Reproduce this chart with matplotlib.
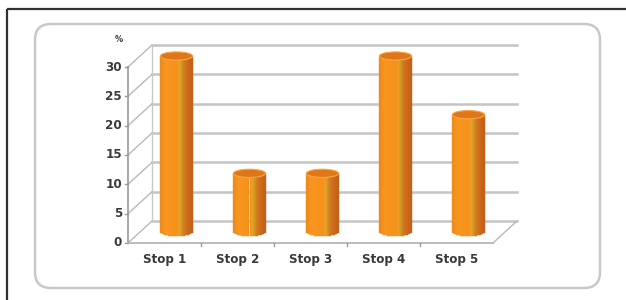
import matplotlib.pyplot as plt
from matplotlib.patches import FancyBboxPatch, Rectangle, Ellipse
from matplotlib.transforms import ScaledTranslation
from matplotlib.colors import LinearSegmentedColormap
import numpy as np

# data
categories = ["Stop 1", "Stop 2", "Stop 3", "Stop 4", "Stop 5"]
values = [30, 10, 10, 30, 20]
y_ticks = [0, 5, 10, 15, 20, 25, 30]
y_unit = "%"

fig = plt.figure(figsize=(6.26, 3), dpi=100)

# background layer in pixel coords
bg = fig.add_axes([0, 0, 1, 1])
bg.set_xlim(0, 626)
bg.set_ylim(300, 0)
bg.axis("off")
bg.plot([7, 626], [9, 9], color="#303030", lw=1.6, solid_capstyle="butt")
bg.plot([7, 7], [9, 300], color="#303030", lw=1.6, solid_capstyle="butt")
bg.add_patch(FancyBboxPatch((35, 24), 565, 264,
                            boxstyle="round,pad=0,rounding_size=16",
                            facecolor="white", edgecolor="#c8c8c8", lw=1.8))

# front plane of the chart
ax = fig.add_axes([128 / 626, 57 / 300, 365 / 626, 176 / 300])
ax.set_xlim(-0.5, len(categories) - 0.5)
ax.set_ylim(0, 30)
ax.axis("off")
ax.patch.set_alpha(0)

font = dict(fontweight="bold", color="#3a3a3a", family="DejaVu Sans",
            fontstretch="condensed")


def shifted(dx, dy):
    return ax.transData + ScaledTranslation(dx, dy, fig.dpi_scale_trans)


back = shifted(0.24, 0.22)
mid = shifted(0.12, 0.11)
x_left, x_right = -0.5, len(categories) - 0.5

grid_c = "#c4c4c4"
# back wall grid
for v in y_ticks:
    ax.plot([x_left, x_right], [v, v], color=grid_c, lw=1.8, transform=back,
            clip_on=False, zorder=1)
    # left side wall diagonals
    p0 = ax.transData.transform((x_left, v))
    p1 = back.transform((x_left, v))
    ax.plot([p0[0], p1[0]], [p0[1], p1[1]], color="#b8b8b8", lw=1.0,
            transform=None, clip_on=False, zorder=1)
    # tick mark and label
    ax.plot([p0[0] - 3, p0[0]], [p0[1], p0[1]], color="#9a9a9a", lw=1.0,
            transform=None, clip_on=False, zorder=2)
    ax.text(x_left, v, str(v), transform=shifted(-0.06, 0), ha="right",
            va="center", fontsize=9.5, **font)

# back vertical edge
ax.plot([x_left, x_left], [0, 30], color="#c8c8c8", lw=1.0, transform=back,
        clip_on=False, zorder=1)

# front axis line
ax.plot([x_left, x_left], [0, 30], color="#9a9a9a", lw=1.2, clip_on=False,
        zorder=2)
# floor edges
ax.plot([x_left, x_right], [0, 0], color="#b0b0b0", lw=1.2, clip_on=False,
        zorder=2)
q0 = ax.transData.transform((x_right, 0))
q1 = back.transform((x_right, 0))
ax.plot([q0[0], q1[0]], [q0[1], q1[1]], color="#b8b8b8", lw=1.0,
        transform=None, clip_on=False, zorder=2)
for b in np.arange(0.5, len(categories) - 1, 1.0):
    t = ax.transData.transform((b, 0))
    ax.plot([t[0], t[0]], [t[1], t[1] - 3], color="#9a9a9a", lw=1.0,
            transform=None, clip_on=False, zorder=2)

ax.text(x_left, 30, y_unit, transform=shifted(-0.09, 0.27), ha="center",
        va="center", fontsize=6.5, **font)

# cylinders
cmap = LinearSegmentedColormap.from_list("cyl", [
    (0.0, "#ee8a1c"), (0.15, "#f7961f"), (0.52, "#f6921c"),
    (0.58, "#eea222"), (0.66, "#c99a2a"), (0.74, "#d6781c"),
    (1.0, "#c25f1a")])
bar_w = 0.44
ell_h = 1.4
n_strip = 30
for i, v in enumerate(values):
    x0 = i - bar_w / 2
    sw = bar_w / n_strip
    for k in range(n_strip):
        xc = x0 + (k + 0.5) * sw
        u = 2 * (xc - i) / bar_w
        bot = -ell_h / 2 * np.sqrt(max(0.0, 1 - u * u))
        c = cmap((k + 0.5) / n_strip)
        ax.add_patch(Rectangle((x0 + k * sw, bot), sw, v - bot,
                               facecolor=c, edgecolor=c, lw=0.3,
                               transform=mid, clip_on=False, zorder=3))
    ax.add_patch(Ellipse((i, v), bar_w, ell_h, facecolor="#df7618",
                         edgecolor="#f6a548", lw=0.8, transform=mid,
                         clip_on=False, zorder=4))

# category labels
for i, name in enumerate(categories):
    ax.text(i, 0, name, transform=shifted(0, -0.17), ha="center",
            va="center", fontsize=9.5, **font)

fig.savefig("out.png", dpi=100)
